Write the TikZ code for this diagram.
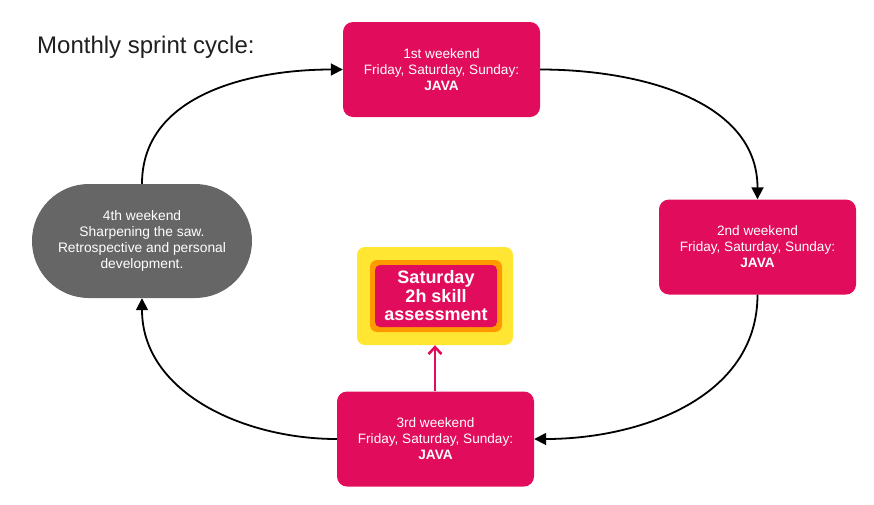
\documentclass[tikz,border=0pt]{standalone}
\usepackage{fontspec}
\setmainfont{Liberation Sans}
\usetikzlibrary{arrows.meta}
\definecolor{wkmag}{HTML}{E10D5C}
\definecolor{wkgray}{HTML}{666666}
\definecolor{wkyellow}{HTML}{FFE633}
\definecolor{wkorange}{HTML}{FF9900}
\tikzset{
  wkbox/.style={rectangle, rounded corners=10pt, fill=wkmag, text=white, align=center,
    minimum width=197pt, minimum height=95pt, inner sep=0pt,
    font=\fontsize{13.6}{16}\selectfont},
  cycleedge/.style={draw=black, line width=1.8pt, -{Triangle[length=12pt,width=12pt]}},
  magedge/.style={draw=wkmag, line width=2.6pt, -{Straight Barb[length=7pt,width=13pt,line width=2.6pt]}}
}
\begin{document}
\begin{tikzpicture}[x=1pt,y=-1pt]
\useasboundingbox (0,0) rectangle (874,504);
\node[anchor=base west, font=\fontsize{24}{27}\selectfont, text=black!88, inner sep=0pt] (title) at (37,53) {Monthly sprint cycle:};
\node[wkbox] (w1) at (441.5,69.5) {1st weekend\\Friday, Saturday, Sunday:\\\textbf{JAVA}};
\node[wkbox] (w2) at (757.5,247) {2nd weekend\\Friday, Saturday, Sunday:\\\textbf{JAVA}};
\node[wkbox] (w3) at (435.5,439) {3rd weekend\\Friday, Saturday, Sunday:\\\textbf{JAVA}};
\node[rectangle, rounded corners=56.9pt, fill=wkgray, text=white, align=center,
  minimum width=220pt, minimum height=114pt, inner sep=0pt,
  font=\fontsize{13.8}{16}\selectfont] (w4) at (142,241)
  {4th weekend\\Sharpening the saw.\\Retrospective and personal\\development.};
\node[rectangle, rounded corners=8pt, fill=wkyellow, minimum width=156pt, minimum height=98pt, inner sep=0pt] (asm) at (435,296) {};
\node[rectangle, rounded corners=7pt, fill=wkorange, minimum width=132pt, minimum height=72pt, inner sep=0pt] (asmo) at (436,296) {};
\node[rectangle, rounded corners=5pt, fill=wkmag, text=white, align=center,
  minimum width=122pt, minimum height=62pt, inner sep=0pt,
  font=\fontsize{18}{18.5}\selectfont\bfseries] (asmi) at (436,296) {Saturday\\2h skill\\assessment};
\draw[cycleedge] (w4.north) to[out=90,in=180] (w1.west);
\draw[cycleedge] (w1.east) to[out=0,in=90] (w2.north);
\draw[cycleedge] (w2.south) to[out=-90,in=0] (w3.east);
\draw[cycleedge] (w3.west) to[out=180,in=-90] (w4.south);
\draw[magedge] (w3.north -| asm.south) -- (asm.south);
\end{tikzpicture}
\end{document}
